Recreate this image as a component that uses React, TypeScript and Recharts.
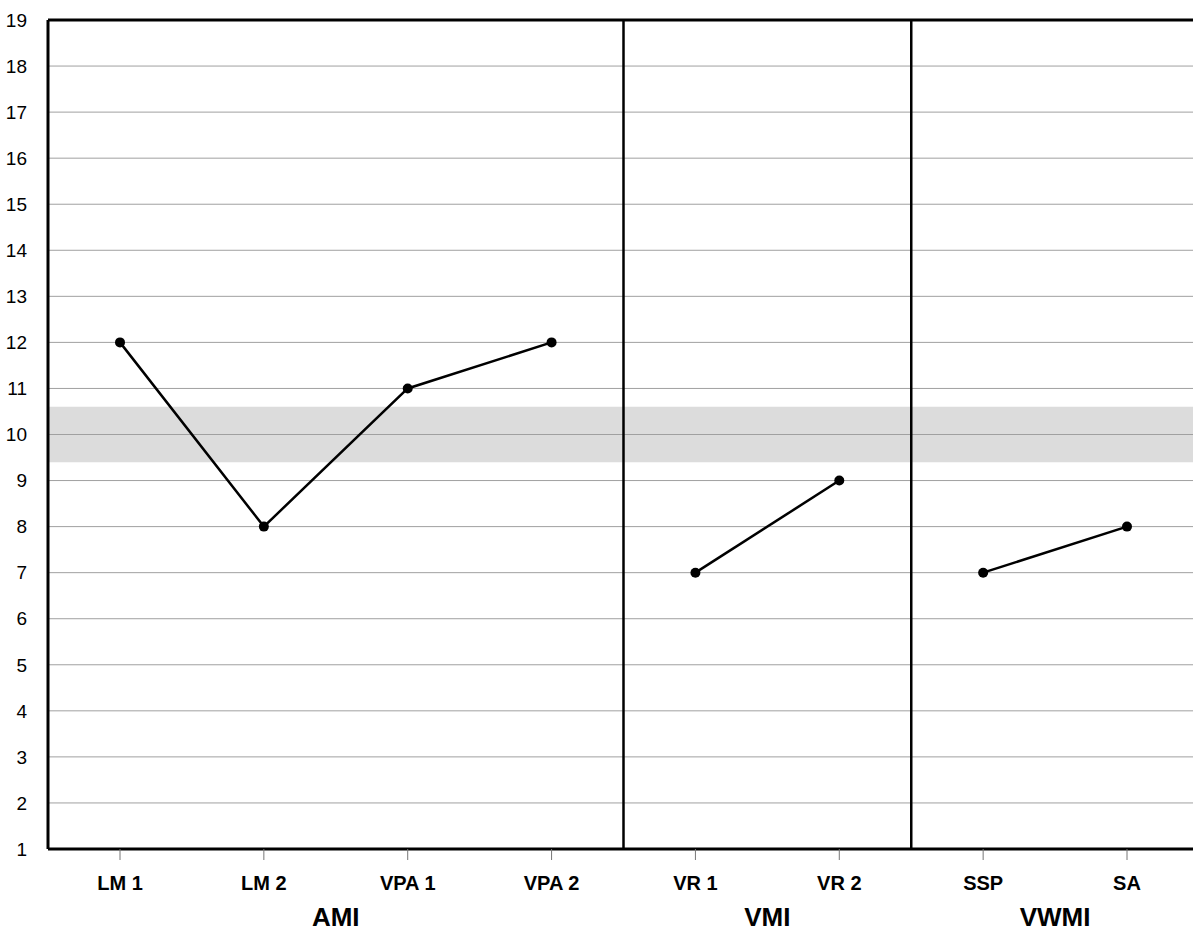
import React from 'react'
import { LineChart, Line, XAxis, YAxis, CartesianGrid, ReferenceArea, ReferenceLine } from 'recharts';

const categories = ['LM 1', 'LM 2', 'VPA 1', 'VPA 2', 'VR 1', 'VR 2', 'SSP', 'SA'];
const groups = ['AMI', 'VMI', 'VWMI'];
const groupSizes = [4, 2, 2];
const amiScores = [12, 8, 11, 12];
const vmiScores = [7, 9];
const vwmiScores = [7, 8];
const yTicks = [1, 2, 3, 4, 5, 6, 7, 8, 9, 10, 11, 12, 13, 14, 15, 16, 17, 18, 19];
const bandLow = 9.4;
const bandHigh = 10.6;
const bandMid = 10;

const seriesKeys = ['ami', 'vmi', 'vwmi'];
const seriesValues = [amiScores, vmiScores, vwmiScores];

// one row per category, only the key of its own group is set so the lines break between groups
// pos = category slot centre, used by the numeric group axis
const data = categories.map((name, i) => {
    const row: any = { name, pos: i + 0.5 };
    let start = 0;
    groupSizes.forEach((size, g) => {
        if (i >= start && i < start + size) row[seriesKeys[g]] = seriesValues[g][i - start];
        start += size;
    });
    return row;
});

const groupBounds: number[] = [];
const groupCenters: number[] = [];
{
    let start = 0;
    groupSizes.forEach((size) => {
        groupCenters.push(start + size / 2);
        start += size;
        groupBounds.push(start);
    });
}
const total = categories.length;

const font = '"Liberation Sans", Arial, sans-serif';

const App = () => {
    return (
        <div style={{ position: 'absolute', left: 0, top: 0, width: 1193, height: 931, overflow: 'hidden', background: '#fff' }}>
            <LineChart
                width={1199}
                height={931}
                data={data}
                margin={{ top: 20, right: 0, left: 0, bottom: 0 }}
            >
                <ReferenceArea xAxisId="grp" x1={0} x2={total} y1={bandLow} y2={bandHigh} fill="#dcdcdc" fillOpacity={1} stroke="none" />
                <CartesianGrid vertical={false} stroke="#a0a0a0" />
                <XAxis
                    dataKey="name"
                    height={45}
                    padding={{ left: 72, right: 72 }}
                    axisLine={{ stroke: '#000', strokeWidth: 3 }}
                    tickLine={{ stroke: '#777', strokeWidth: 1 }}
                    tickSize={11}
                    tickMargin={16}
                    tick={{ fill: '#000', fontSize: 20, fontWeight: 'bold', fontFamily: font }}
                    interval={0}
                />
                <XAxis
                    xAxisId="grp"
                    dataKey="pos"
                    type="number"
                    domain={[0, total]}
                    allowDataOverflow={true}
                    ticks={groupCenters}
                    tickFormatter={(v: number) => groups[groupCenters.indexOf(v)]}
                    height={37}
                    axisLine={false}
                    tickLine={false}
                    tickSize={0}
                    tickMargin={14}
                    tick={{ fill: '#000', fontSize: 26, fontWeight: 'bold', fontFamily: font }}
                    interval={0}
                />
                <YAxis
                    domain={[1, 19]}
                    ticks={yTicks}
                    width={48}
                    axisLine={{ stroke: '#000', strokeWidth: 3 }}
                    tickLine={false}
                    tickMargin={15}
                    tick={{ fill: '#000', fontSize: 19, fontFamily: font }}
                    interval={0}
                />
                <ReferenceLine y={bandMid} stroke="#a0a0a0" strokeWidth={1} />
                <ReferenceLine y={19} stroke="#000" strokeWidth={3} />
                {groupBounds.slice(0, -1).map((b) => (
                    <ReferenceLine key={b} x={b} xAxisId="grp" stroke="#000" strokeWidth={2.5} />
                ))}
                {seriesKeys.map((k) => (
                    <Line
                        key={k}
                        dataKey={k}
                        stroke="#000"
                        strokeWidth={2.5}
                        dot={{ r: 5, fill: '#000', stroke: '#000', strokeWidth: 0 }}
                        isAnimationActive={false}
                    />
                ))}
            </LineChart>
        </div>
    );
}

export default App
